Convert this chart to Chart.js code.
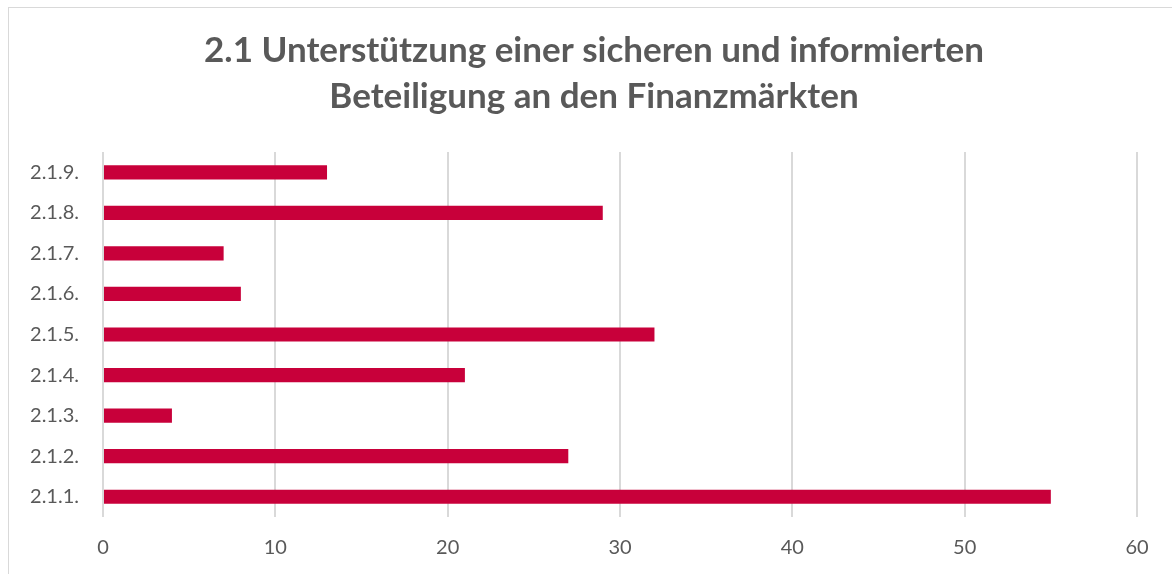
<!DOCTYPE html>
<html>
<head>
<meta charset="utf-8">
<script src="https://cdn.jsdelivr.net/npm/chart.js@4.4.0/dist/chart.umd.min.js"></script>
<style>
  html, body { margin: 0; padding: 0; background: #fff; overflow: hidden; }
  #frame { position: absolute; left: 8px; top: 7px; width: 1200px; height: 600px; border: 1px solid #d9d9d9; box-sizing: border-box; }
  #wrap { position: absolute; left: 0; top: 0; width: 1172px; height: 574px; }
</style>
</head>
<body>
<div id="frame"></div>
<div id="wrap"><canvas id="c" width="1172" height="574"></canvas></div>
<script>
const categories = ["2.1.1.", "2.1.2.", "2.1.3.", "2.1.4.", "2.1.5.", "2.1.6.", "2.1.7.", "2.1.8.", "2.1.9."];
const values = [55, 27, 4, 21, 32, 8, 7, 29, 13];
const titleLines = ["2.1 Unterstützung einer sicheren und informierten", "Beteiligung an den Finanzmärkten"];
const xMin = 0, xMax = 60, xStep = 10;

const FONT = "Lato, 'Open Sans', sans-serif";
const GREY = "#595959";

// shift the title block so it is centred like the original (centre at x≈594)
const titleShift = {
  id: 'titleShift',
  afterLayout(chart) {
    if (chart.titleBlock) { chart.titleBlock.left = 51; }
  }
};

new Chart(document.getElementById('c'), {
  type: 'bar',
  data: {
    labels: categories,
    datasets: [{
      data: values,
      backgroundColor: '#C8003A',
      borderWidth: 0,
      barPercentage: 0.35,
      categoryPercentage: 1.0
    }]
  },
  options: {
    indexAxis: 'y',
    responsive: false,
    animation: false,
    devicePixelRatio: 1,
    layout: { padding: { left: 0, right: 35, top: 0, bottom: 0 } },
    plugins: {
      legend: { display: false },
      tooltip: { enabled: false },
      title: {
        display: true,
        text: titleLines,
        color: GREY,
        font: { family: FONT, size: 35, weight: 'bold', lineHeight: 1.3 },
        padding: { top: 28, bottom: 33 }
      }
    },
    scales: {
      x: {
        min: xMin, max: xMax,
        ticks: { stepSize: xStep, color: GREY, font: { family: FONT, size: 20 }, padding: 19 },
        grid: { color: '#d9d9d9', lineWidth: 2, drawTicks: false },
        border: { display: false },
        afterFit: (s) => { s.height = 57; }
      },
      y: {
        reverse: true,
        ticks: { color: GREY, font: { family: FONT, size: 20 }, padding: 24 },
        grid: { display: false, drawTicks: false },
        border: { display: false },
        afterFit: (s) => { s.width = 103; }
      }
    }
  },
  plugins: [titleShift]
});
</script>
</body>
</html>
